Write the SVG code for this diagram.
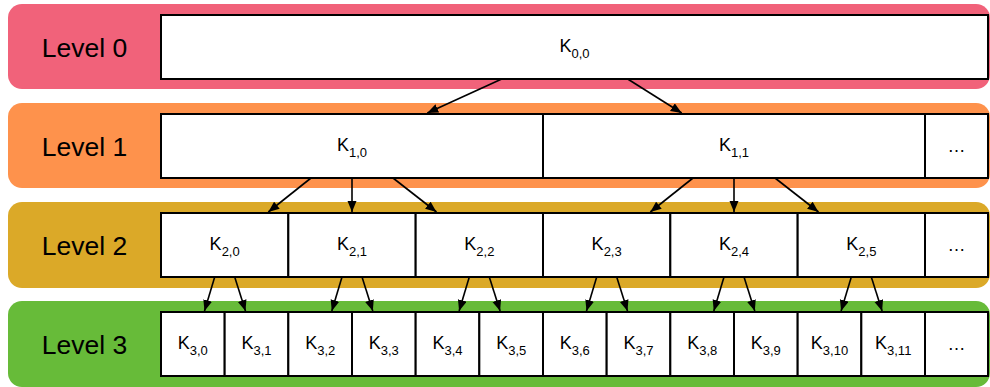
<svg xmlns="http://www.w3.org/2000/svg" width="990" height="387" viewBox="0 0 990 387">
<style>
.band{stroke:none}
.cell{fill:#fff;stroke:#000;stroke-width:2}
.lvl{font-family:"Liberation Sans",Arial,sans-serif;font-size:26.5px;fill:#000;text-anchor:middle}
.k{font-family:"Liberation Sans",Arial,sans-serif;font-size:18px;fill:#000;text-anchor:middle}
.s{font-size:13px}
.ar{stroke:#000;stroke-width:1.6;fill:none;marker-end:url(#ah)}
</style>
<defs>
<marker id="ah" markerUnits="userSpaceOnUse" markerWidth="12" markerHeight="10" refX="11" refY="4.5" orient="auto">
<path d="M0,0 L11,4.5 L0,9 Z" fill="#000"/>
</marker>
</defs>
<g id="level0">
<rect class="band" x="8" y="4" width="982" height="85" rx="14" fill="#F1627A"/>
<text class="lvl" x="84.5" y="57">Level 0</text>
</g>
<g id="level1">
<rect class="band" x="8" y="103" width="982" height="85" rx="14" fill="#FE924C"/>
<text class="lvl" x="84.5" y="156">Level 1</text>
</g>
<g id="level2">
<rect class="band" x="8" y="202" width="982" height="86" rx="14" fill="#DBA928"/>
<text class="lvl" x="84.5" y="255">Level 2</text>
</g>
<g id="level3">
<rect class="band" x="8" y="301" width="982" height="86" rx="14" fill="#67BB39"/>
<text class="lvl" x="84.5" y="354">Level 3</text>
</g>
<g id="k00">
<rect class="cell" x="161" y="15" width="827" height="64"/>
<text class="k" x="574.5" y="52">K<tspan class="s" dy="6">0,0</tspan></text>
</g>
<g id="k10">
<rect class="cell" x="161" y="114" width="382" height="64"/>
<text class="k" x="352" y="151">K<tspan class="s" dy="6">1,0</tspan></text>
</g>
<g id="k11">
<rect class="cell" x="543" y="114" width="382" height="64"/>
<text class="k" x="734" y="151">K<tspan class="s" dy="6">1,1</tspan></text>
</g>
<g id="k1more">
<rect class="cell" x="925" y="114" width="63" height="64"/>
<text class="k" x="956.5" y="152">…</text>
</g>
<g id="k20"><rect class="cell" x="161" y="213" width="127.33" height="64"/><text class="k" x="224.67" y="250">K<tspan class="s" dy="6">2,0</tspan></text></g>
<g id="k21"><rect class="cell" x="288.33" y="213" width="127.33" height="64"/><text class="k" x="352" y="250">K<tspan class="s" dy="6">2,1</tspan></text></g>
<g id="k22"><rect class="cell" x="415.67" y="213" width="127.33" height="64"/><text class="k" x="479.33" y="250">K<tspan class="s" dy="6">2,2</tspan></text></g>
<g id="k23"><rect class="cell" x="543" y="213" width="127.33" height="64"/><text class="k" x="606.67" y="250">K<tspan class="s" dy="6">2,3</tspan></text></g>
<g id="k24"><rect class="cell" x="670.33" y="213" width="127.33" height="64"/><text class="k" x="734" y="250">K<tspan class="s" dy="6">2,4</tspan></text></g>
<g id="k25"><rect class="cell" x="797.67" y="213" width="127.33" height="64"/><text class="k" x="861.33" y="250">K<tspan class="s" dy="6">2,5</tspan></text></g>
<g id="k2more"><rect class="cell" x="925" y="213" width="63" height="64"/><text class="k" x="956.5" y="251">…</text></g>
<g id="k30"><rect class="cell" x="161" y="312" width="63.67" height="64"/><text class="k" x="192.8" y="349">K<tspan class="s" dy="6">3,0</tspan></text></g>
<g id="k31"><rect class="cell" x="224.67" y="312" width="63.67" height="64"/><text class="k" x="256.5" y="349">K<tspan class="s" dy="6">3,1</tspan></text></g>
<g id="k32"><rect class="cell" x="288.33" y="312" width="63.67" height="64"/><text class="k" x="320.2" y="349">K<tspan class="s" dy="6">3,2</tspan></text></g>
<g id="k33"><rect class="cell" x="352" y="312" width="63.67" height="64"/><text class="k" x="383.8" y="349">K<tspan class="s" dy="6">3,3</tspan></text></g>
<g id="k34"><rect class="cell" x="415.67" y="312" width="63.67" height="64"/><text class="k" x="447.5" y="349">K<tspan class="s" dy="6">3,4</tspan></text></g>
<g id="k35"><rect class="cell" x="479.33" y="312" width="63.67" height="64"/><text class="k" x="511.2" y="349">K<tspan class="s" dy="6">3,5</tspan></text></g>
<g id="k36"><rect class="cell" x="543" y="312" width="63.67" height="64"/><text class="k" x="574.8" y="349">K<tspan class="s" dy="6">3,6</tspan></text></g>
<g id="k37"><rect class="cell" x="606.67" y="312" width="63.67" height="64"/><text class="k" x="638.5" y="349">K<tspan class="s" dy="6">3,7</tspan></text></g>
<g id="k38"><rect class="cell" x="670.33" y="312" width="63.67" height="64"/><text class="k" x="702.2" y="349">K<tspan class="s" dy="6">3,8</tspan></text></g>
<g id="k39"><rect class="cell" x="734" y="312" width="63.67" height="64"/><text class="k" x="765.8" y="349">K<tspan class="s" dy="6">3,9</tspan></text></g>
<g id="k310"><rect class="cell" x="797.67" y="312" width="63.67" height="64"/><text class="k" x="829.5" y="349">K<tspan class="s" dy="6">3,10</tspan></text></g>
<g id="k311"><rect class="cell" x="861.33" y="312" width="63.67" height="64"/><text class="k" x="893.2" y="349">K<tspan class="s" dy="6">3,11</tspan></text></g>
<g id="k3more"><rect class="cell" x="925" y="312" width="63" height="64"/><text class="k" x="956.5" y="350">…</text></g>
<g id="connectors">
<line class="ar" x1="501.7" y1="79" x2="427.3" y2="113"/>
<line class="ar" x1="627.7" y1="79" x2="681.7" y2="113"/>
<line class="ar" x1="311" y1="178" x2="268.3" y2="212"/>
<line class="ar" x1="352" y1="178" x2="352" y2="212"/>
<line class="ar" x1="393" y1="178" x2="436.5" y2="212"/>
<line class="ar" x1="693" y1="178" x2="650.3" y2="212"/>
<line class="ar" x1="734" y1="178" x2="734" y2="212"/>
<line class="ar" x1="775" y1="178" x2="818.5" y2="212"/>
<line class="ar" x1="214.7" y1="277" x2="204.5" y2="311"/>
<line class="ar" x1="234.7" y1="277" x2="245.5" y2="311"/>
<line class="ar" x1="342" y1="277" x2="331.8" y2="311"/>
<line class="ar" x1="362" y1="277" x2="372.8" y2="311"/>
<line class="ar" x1="469.3" y1="277" x2="459.1" y2="311"/>
<line class="ar" x1="489.3" y1="277" x2="500.1" y2="311"/>
<line class="ar" x1="596.7" y1="277" x2="586.5" y2="311"/>
<line class="ar" x1="616.7" y1="277" x2="627.5" y2="311"/>
<line class="ar" x1="724" y1="277" x2="713.8" y2="311"/>
<line class="ar" x1="744" y1="277" x2="754.8" y2="311"/>
<line class="ar" x1="851.3" y1="277" x2="841.1" y2="311"/>
<line class="ar" x1="871.3" y1="277" x2="882.1" y2="311"/>
</g>
</svg>
